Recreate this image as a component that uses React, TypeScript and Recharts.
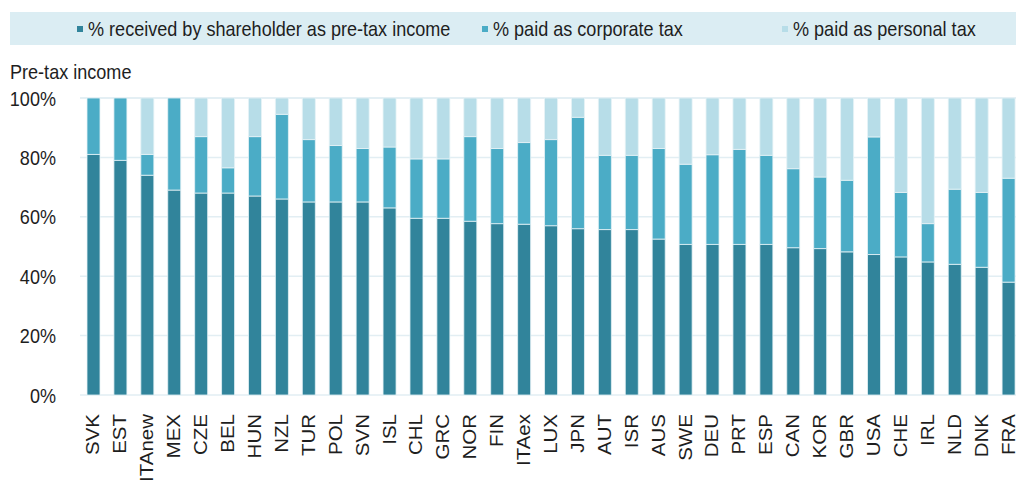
import React from "react";
import { BarChart, Bar, XAxis, YAxis, CartesianGrid } from "recharts";

const countries = [
  "SVK", "EST", "ITAnew", "MEX", "CZE", "BEL", "HUN", "NZL", "TUR", "POL", "SVN", "ISL",
  "CHL", "GRC", "NOR", "FIN", "ITAex", "LUX", "JPN", "AUT", "ISR", "AUS", "SWE", "DEU",
  "PRT", "ESP", "CAN", "KOR", "GBR", "USA", "CHE", "IRL", "NLD", "DNK", "FRA",
];

const shareholder = [
  81, 79, 74, 69, 68, 68, 67, 66, 65, 65, 65, 63,
  59.5, 59.5, 58.5, 57.7, 57.5, 57, 56, 55.7, 55.7, 52.5, 50.7, 50.7,
  50.7, 50.7, 49.6, 49.3, 48.2, 47.3, 46.5, 44.8, 44, 43, 38,
];

const corporate = [
  19, 21, 7, 31, 19, 8.5, 20, 28.5, 21, 19, 18, 20.5,
  20, 20, 28.5, 25.3, 27.5, 29, 37.5, 25, 25, 30.5, 27, 30.2,
  32, 30, 26.6, 24.1, 24.1, 39.6, 21.7, 12.9, 25.3, 25.2, 35,
];

const personal = [
  0, 0, 19, 0, 13, 23.5, 13, 5.5, 14, 16, 17, 16.5,
  20.5, 20.5, 13, 17, 15, 14, 6.5, 19.3, 19.3, 17, 22.3, 19.1,
  17.3, 19.3, 23.8, 26.6, 27.7, 13.1, 31.8, 42.3, 30.7, 31.8, 27,
];

const yTicks = [0, 20, 40, 60, 80, 100];

const seriesNames = [
  "% received by shareholder as pre-tax income",
  "% paid as corporate tax",
  "% paid as personal tax",
];
const seriesColors = ["#31849b", "#4bacc6", "#b7dde8"];

const data = countries.map((c, i) => ({
  country: c,
  shareholder: shareholder[i],
  corporate: corporate[i],
  personal: personal[i],
}));

const FONT = "'Liberation Sans', Arial, sans-serif";
const SQUISH = 0.86;

const YTick = (props: any) => {
  const { x, y, payload } = props;
  return (
    <text
      transform={`translate(${x},${y}) scale(${SQUISH},1)`}
      textAnchor="end"
      dominantBaseline="central"
      fontSize={21}
      fontFamily={FONT}
      fill="#1e1e1e"
    >
      {`${payload.value}%`}
    </text>
  );
};

const XTick = (props: any) => {
  const { x, y, payload } = props;
  return (
    <text
      transform={`translate(${x},${y + 11}) scale(${SQUISH},1) rotate(-90)`}
      textAnchor="end"
      dominantBaseline="central"
      fontSize={20.5}
      fontFamily={FONT}
      fill="#1e1e1e"
    >
      {payload.value}
    </text>
  );
};

// legend band across the top
const legendX = [77, 482, 782];

export default function App() {
  return (
    <div
      style={{
        position: "fixed",
        left: 0,
        top: 0,
        width: 1016,
        height: 489,
        overflow: "hidden",
        background: "#fff",
        fontFamily: FONT,
      }}
    >
      <div
        style={{
          position: "absolute",
          left: 10,
          top: 12,
          width: 1006,
          height: 33,
          background: "#dbedf3",
        }}
      />
      {seriesNames.map((name, i) => (
        <div
          key={name}
          style={{ position: "absolute", left: legendX[i], top: 12, height: 33, display: "flex", alignItems: "center" }}
        >
          <div style={{ width: 6, height: 6, background: seriesColors[i], marginRight: 5 }} />
          <span
            style={{
              fontSize: 21,
              color: "#1e1e1e",
              whiteSpace: "nowrap",
              display: "inline-block",
              transform: `scaleX(${SQUISH})`,
              transformOrigin: "left center",
            }}
          >
            {name}
          </span>
        </div>
      ))}
      <div
        style={{
          position: "absolute",
          left: 10,
          top: 60,
          fontSize: 21,
          color: "#1e1e1e",
          whiteSpace: "nowrap",
          transform: `scaleX(${SQUISH})`,
          transformOrigin: "left center",
        }}
      >
        Pre-tax income
      </div>
      <div style={{ position: "absolute", left: 0, top: 0 }}>
        <BarChart
          width={1022}
          height={489}
          data={data}
          margin={{ top: 98, right: 0, left: 0, bottom: 0 }}
          barSize={13}
        >
          <CartesianGrid vertical={false} stroke="#e2eef3" strokeWidth={1.5} />
          <XAxis
            dataKey="country"
            interval={0}
            height={94}
            axisLine={false}
            tickLine={false}
            tick={<XTick />}
          />
          <YAxis
            width={80}
            domain={[0, 100]}
            ticks={yTicks}
            axisLine={false}
            tickLine={false}
            tickMargin={18}
            tick={<YTick />}
          />
          <Bar dataKey="shareholder" stackId="a" fill={seriesColors[0]} stroke="#e6f2f6" strokeWidth={0.8} isAnimationActive={false} />
          <Bar dataKey="corporate" stackId="a" fill={seriesColors[1]} stroke="#e6f2f6" strokeWidth={0.8} isAnimationActive={false} />
          <Bar dataKey="personal" stackId="a" fill={seriesColors[2]} stroke="#e6f2f6" strokeWidth={0.8} isAnimationActive={false} />
        </BarChart>
      </div>
    </div>
  );
}
